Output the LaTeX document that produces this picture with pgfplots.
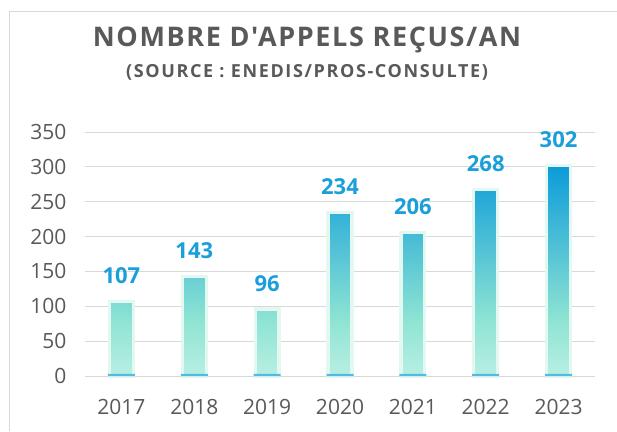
\documentclass[border=0pt]{standalone}
\usepackage{pgfplots}
\pgfplotsset{compat=1.18}
\usepackage{fontspec}
\setmainfont{Open Sans}[Ligatures=TeXOff]
\definecolor{titlegray}{HTML}{595959}
\definecolor{ticklab}{HTML}{595959}
\definecolor{valblue}{HTML}{1A9FDB}
\definecolor{gridc}{HTML}{D9D9D9}
\definecolor{barblue}{HTML}{0C9BD9}
\definecolor{baraqua}{HTML}{8FE4D3}
\definecolor{barlight}{HTML}{B8EFE3}
\definecolor{glowc}{HTML}{E2F8F1}
\definecolor{frame}{HTML}{D9D9D9}
\pgfdeclareverticalshading{barshade}{100bp}{color(0bp)=(barlight); color(25bp)=(barlight); color(38bp)=(baraqua); color(75bp)=(barblue); color(100bp)=(barblue)}
\begin{document}
\begin{tikzpicture}[x=1pt,y=1pt]
\useasboundingbox (0,0) rectangle (617,431);
\fill[white] (0,0) rectangle (617,431);
\draw[frame, line width=1pt] (9.5,0) -- (9.5,419) -- (617,419);
\node[anchor=base, font=\bfseries\fontsize{27}{32}\selectfont\addfontfeatures{LetterSpace=6}, text=titlegray] at (307,384) {NOMBRE D'APPELS REÇUS/AN};
\node[anchor=base, font=\bfseries\fontsize{18}{22}\selectfont\addfontfeatures{LetterSpace=9}, text=titlegray] at (307,353) {(SOURCE : ENEDIS/PROS-CONSULTE)};
\begin{axis}[
  at={(85pt,55pt)}, anchor=south west,
  scale only axis, width=510pt, height=244pt,
  xmin=-0.5, xmax=6.5, ymin=0, ymax=350,
  ytick={0,50,...,350},
  xtick={0,...,6},
  xticklabels={2017,2018,2019,2020,2021,2022,2023},
  axis line style={draw=none},
  major tick length=0pt,
  ymajorgrids, grid style={draw=gridc, line width=1pt},
  /pgf/number format/assume math mode=true,
  tick label style={font=\fontsize{21}{25}\selectfont, text=ticklab},
  yticklabel style={xshift=-15pt},
  xticklabel style={anchor=base, yshift=-38pt},
  clip=false,
]
\addplot[ybar, bar width=23.85pt, bar shift=0pt, draw=glowc, line width=3.2pt, shade, shading=barshade,
  nodes near coords, point meta=explicit symbolic,
  nodes near coords style={anchor=base, yshift=18pt, font=\bfseries\fontsize{22}{26}\selectfont, text=valblue}]
  table[meta=v] {
x y v
0 107 107
1 143 143
2 96 96
3 234 234
4 206 206
5 268 268
6 302 302
};
\addplot[ybar, bar width=27pt, bar shift=0pt, draw=none, fill=barblue!70!white] coordinates {
(0,3) (1,3) (2,3) (3,3) (4,3) (5,3) (6,3)};
\end{axis}
\end{tikzpicture}
\end{document}
